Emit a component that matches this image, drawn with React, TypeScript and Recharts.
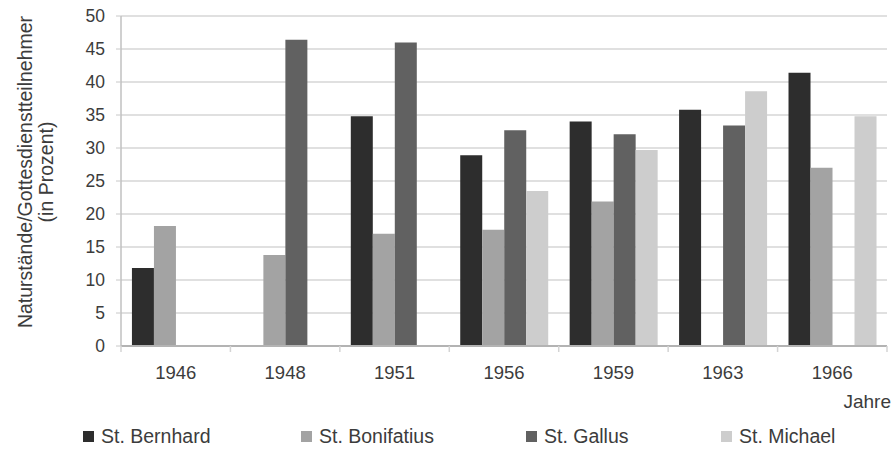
import React from "react";
import {
  BarChart,
  Bar,
  XAxis,
  YAxis,
  CartesianGrid,
} from "recharts";

const years = ["1946", "1948", "1951", "1956", "1959", "1963", "1966"];

const bernhard = [11.8, null, 34.8, 28.9, 34.0, 35.8, 41.4];
const bonifatius = [18.2, 13.8, 17.0, 17.6, 21.9, null, 27.0];
const gallus = [null, 46.4, 46.0, 32.7, 32.1, 33.4, null];
const michael = [null, null, null, 23.5, 29.7, 38.6, 34.8];

const yTicks = [0, 5, 10, 15, 20, 25, 30, 35, 40, 45, 50];

const series = [
  { key: "bernhard", name: "St. Bernhard", values: bernhard, color: "#2d2d2d" },
  { key: "bonifatius", name: "St. Bonifatius", values: bonifatius, color: "#a3a3a3" },
  { key: "gallus", name: "St. Gallus", values: gallus, color: "#616161" },
  { key: "michael", name: "St. Michael", values: michael, color: "#cdcdcd" },
];

const data = years.map((year, i) => {
  const row: Record<string, string | number | null> = { year };
  series.forEach((s) => {
    row[s.key] = s.values[i];
  });
  return row;
});

const FONT = '"Liberation Sans", Arial, sans-serif';
const TEXT = "#3c3c3c";

// year label plus the small tick marks at the category boundaries
const YearTick = (props: any) => {
  const { x, y, payload, index, visibleTicksCount } = props;
  const half = payload.offset || 0;
  return (
    <g>
      <line x1={x - half} x2={x - half} y1={y} y2={y + 6} stroke="#d4d4d4" strokeWidth={1.5} />
      {index === visibleTicksCount - 1 && (
        <line x1={x + half} x2={x + half} y1={y} y2={y + 6} stroke="#d4d4d4" strokeWidth={1.5} />
      )}
      <text
        x={x}
        y={y + 33}
        textAnchor="middle"
        fontSize={18.5}
        fontFamily={FONT}
        fill={TEXT}
      >
        {payload.value}
      </text>
    </g>
  );
};

const YearTitle = (props: any) => {
  const { viewBox } = props;
  return (
    <text
      x={viewBox.x + viewBox.width + 4}
      y={viewBox.y + 62}
      textAnchor="end"
      fontSize={19}
      fontFamily={FONT}
      fill={TEXT}
    >
      Jahre
    </text>
  );
};

const ValueTitle = () => {
  const cy = 172;
  return (
    <g fontFamily={FONT} fontSize={19.5} fill={TEXT} textAnchor="middle">
      <text x={25} y={cy} dominantBaseline="central" transform={`rotate(-90 25 ${cy})`}>
        Naturstände/Gottesdienstteilnehmer
      </text>
      <text x={46} y={cy} dominantBaseline="central" transform={`rotate(-90 46 ${cy})`}>
        (in Prozent)
      </text>
    </g>
  );
};

const legendLeft = [83, 301, 526, 721];

export default function App() {
  return (
    <div style={{ position: "absolute", left: 0, top: 0, width: 893, height: 449, background: "#fff" }}>
      <BarChart
        width={893}
        height={449}
        data={data}
        margin={{ top: 16, right: 6, bottom: 0, left: 0 }}
        barCategoryGap="10%"
        barGap={0}
      >
        <CartesianGrid vertical={false} stroke="#d6d6d6" strokeWidth={1.5} />
        <XAxis
          dataKey="year"
          height={103}
          tickSize={0}
          tickMargin={0}
          tickLine={false}
          axisLine={{ stroke: "#b3b3b3", strokeWidth: 2 }}
          tick={<YearTick />}
          interval={0}
          label={<YearTitle />}
        />
        <YAxis
          width={121}
          domain={[0, 50]}
          ticks={yTicks}
          interval={0}
          tickSize={5}
          tickMargin={11}
          tickLine={{ stroke: "#c8c8c8" }}
          axisLine={{ stroke: "#c0c0c0", strokeWidth: 1.5 }}
          tick={{ fontSize: 17.5, fill: TEXT, fontFamily: FONT }}
          label={<ValueTitle />}
        />
        <YAxis
          yAxisId="frame"
          orientation="right"
          width={0}
          domain={[0, 50]}
          tick={false}
          tickLine={false}
          axisLine={{ stroke: "#e0e0e0", strokeWidth: 1.5 }}
        />
        {series.map((s) => (
          <Bar
            key={s.key}
            dataKey={s.key}
            name={s.name}
            fill={s.color}
            isAnimationActive={false}
          />
        ))}
      </BarChart>
      <div style={{ position: "absolute", left: 0, top: 424, width: 893, height: 24, fontFamily: FONT, fontSize: 19.5, color: TEXT }}>
        {series.map((s, i) => (
          <div
            key={s.key}
            style={{ position: "absolute", left: legendLeft[i], top: 0, display: "flex", alignItems: "center", height: 24, whiteSpace: "nowrap" }}
          >
            <span style={{ display: "inline-block", width: 11, height: 11, background: s.color, marginRight: 7 }} />
            <span>{s.name}</span>
          </div>
        ))}
      </div>
    </div>
  );
}
